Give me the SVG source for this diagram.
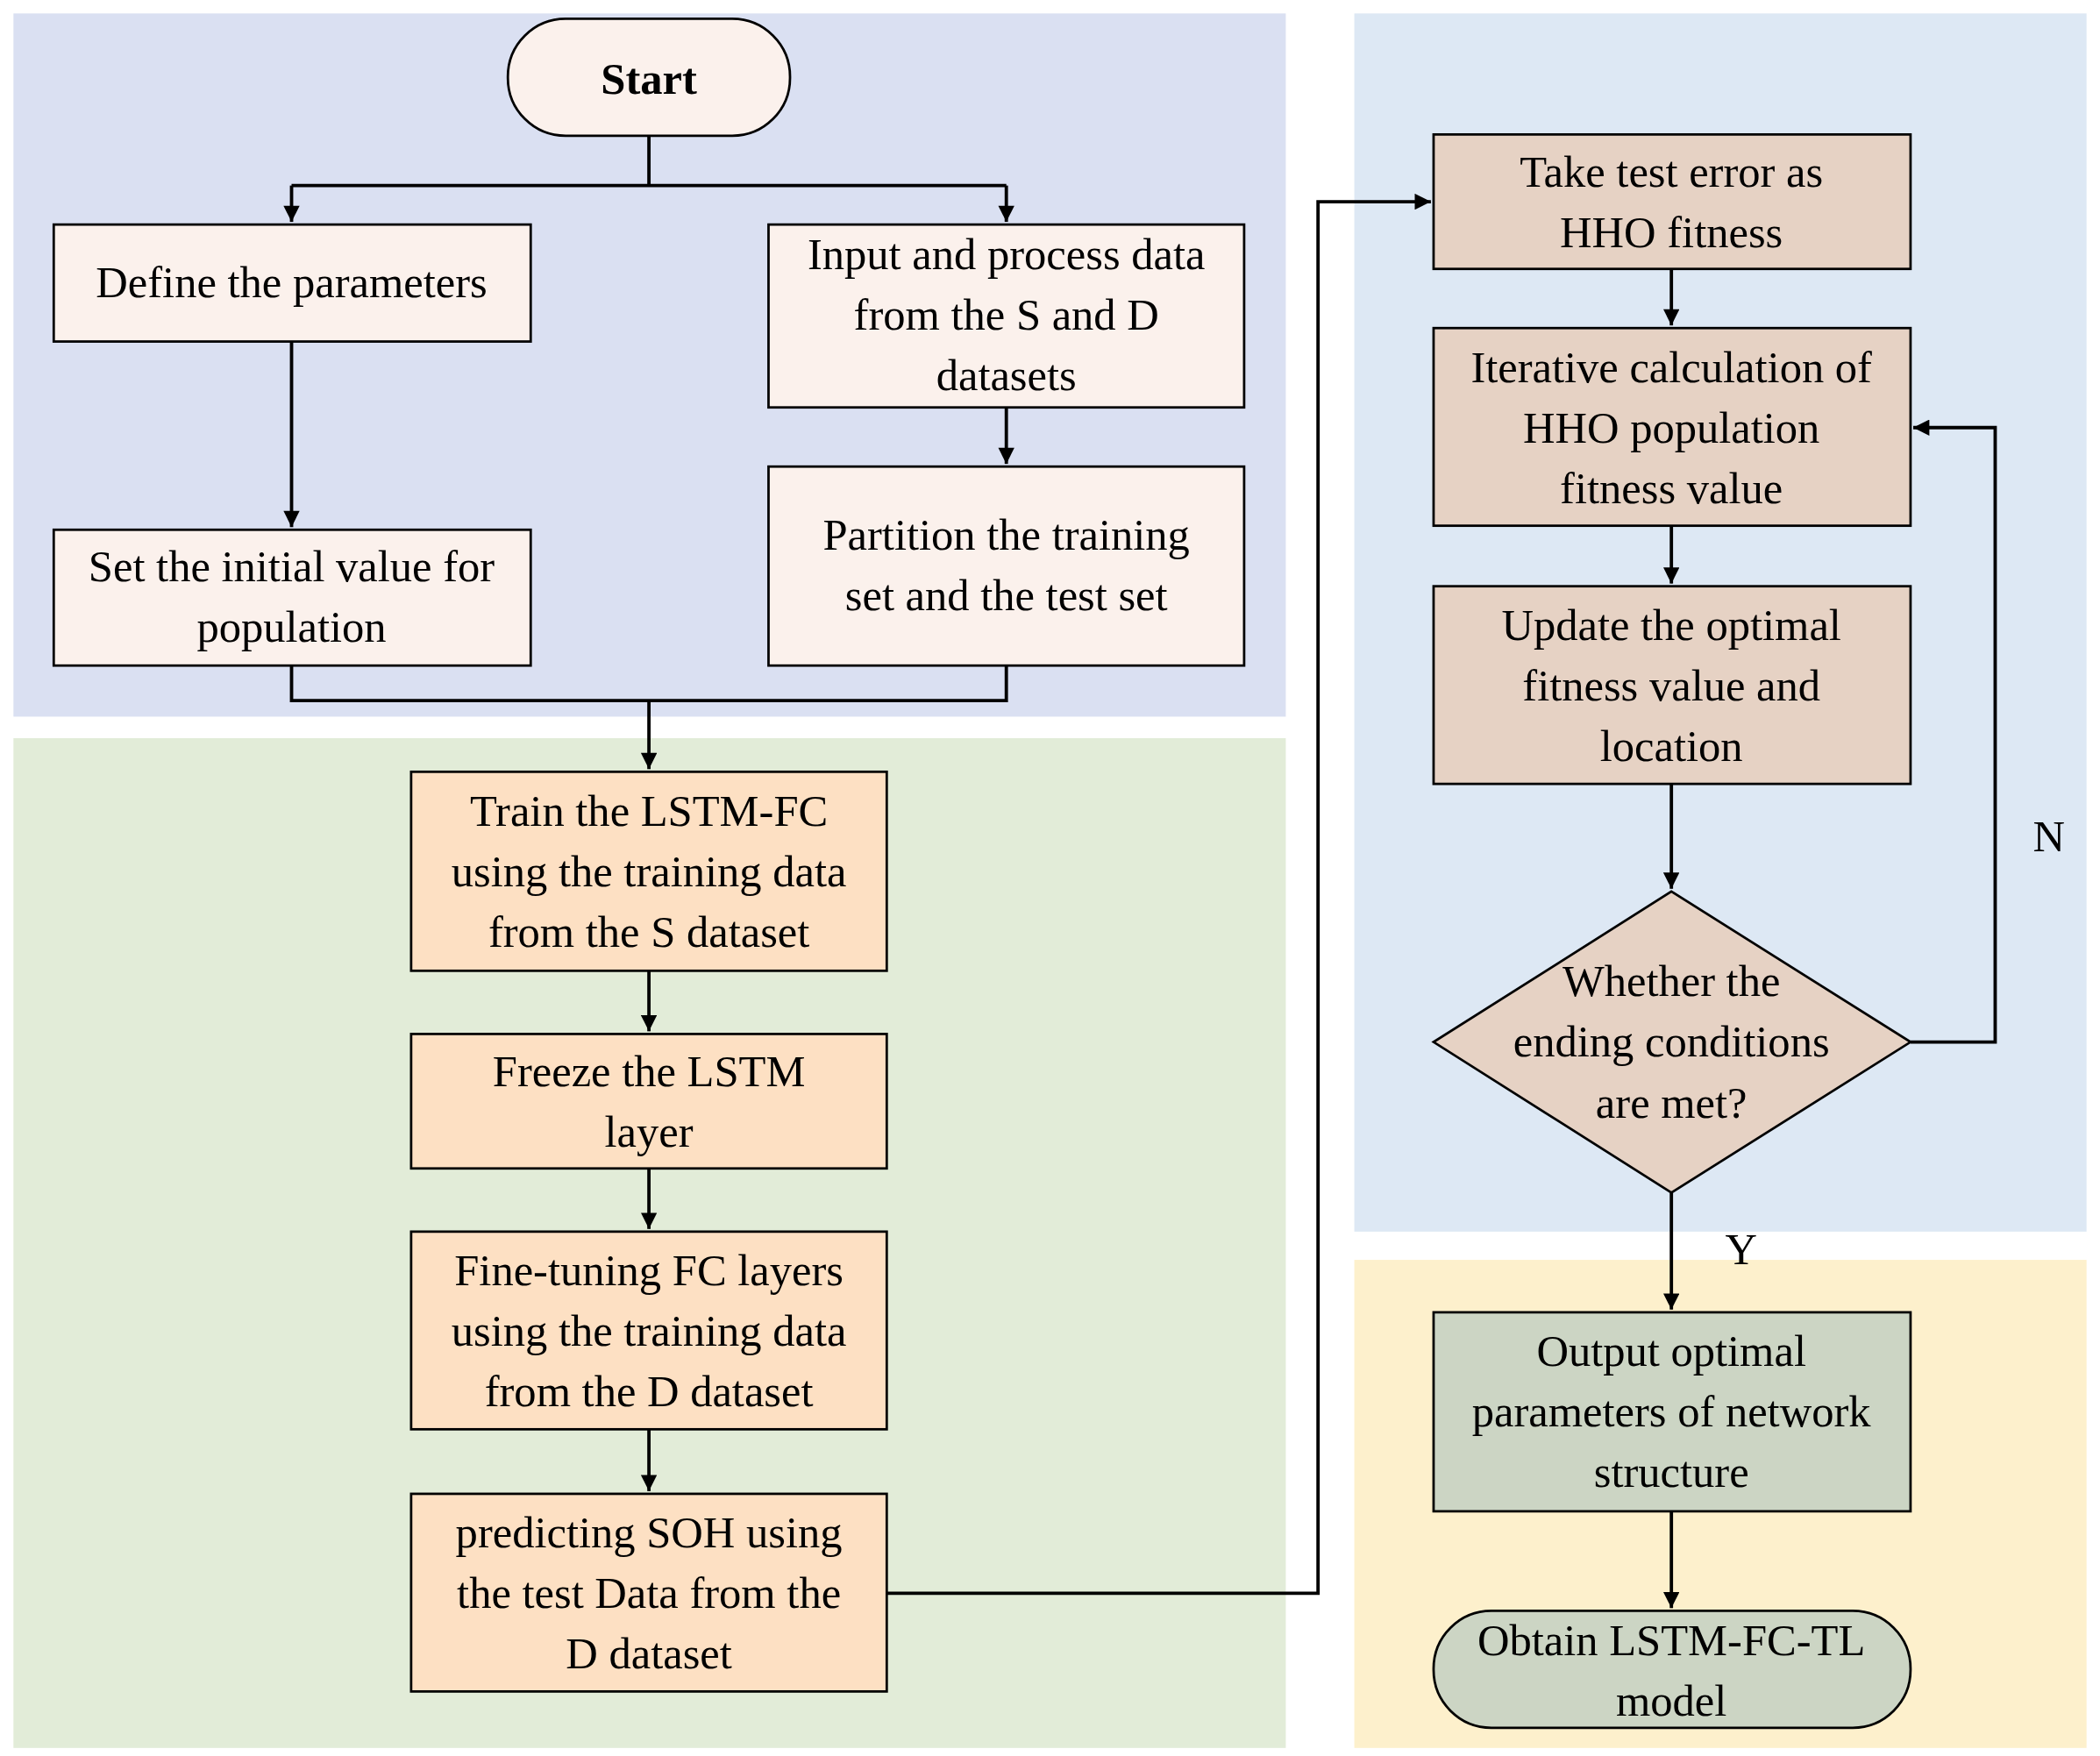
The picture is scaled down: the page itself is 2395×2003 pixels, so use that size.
<svg xmlns="http://www.w3.org/2000/svg" width="2395" height="2003" viewBox="0 0 2395 2003">
<defs>
<marker id="ah" viewBox="0 0 10 10" refX="10" refY="5" markerWidth="5" markerHeight="5" orient="auto" markerUnits="userSpaceOnUse"><path d="M0,0 L10,5 L0,10 z" fill="#000"/></marker>
<style>
.n{stroke:#000;stroke-width:1.8}
.a{fill:#fbf1ec}.b{fill:#fde0c3}.c{fill:#e6d2c4}.d{fill:#ccd5c4}
text{font-family:"Liberation Serif","Times New Roman",serif;font-size:33px;fill:#000;text-anchor:middle}
.e{fill:none;stroke:#000;stroke-width:2.5}
.m{marker-end:url(#ah)}
</style>
<marker id="ah2" viewBox="0 0 10 10" refX="10" refY="5" markerWidth="14" markerHeight="12" orient="auto" markerUnits="userSpaceOnUse"><path d="M0,0 L10,5 L0,10 z" fill="#000"/></marker>
</defs>
<rect width="2395" height="2003" fill="#fff"/>
<g transform="scale(1.5323,1.5337)">
<g id="panels">
<rect x="10" y="10" width="947" height="523" fill="#dae0f2"/>
<rect x="10" y="549" width="947" height="751" fill="#e2ecd8"/>
<rect x="1008" y="10" width="545" height="906" fill="#dde8f4"/>
<rect x="1008" y="937" width="545" height="363" fill="#fdf0cc"/>
</g>
<g id="connectors" class="e">
<path d="M483,101 V138 M217,138 H749"/>
<path d="M217,138 V165" marker-end="url(#ah2)"/>
<path d="M749,138 V165" marker-end="url(#ah2)"/>
<path d="M217,254 V392" marker-end="url(#ah2)"/>
<path d="M749,303 V345" marker-end="url(#ah2)"/>
<path d="M217,495 V521 H749 V495"/>
<path d="M483,521 V572" marker-end="url(#ah2)"/>
<path d="M483,722 V767" marker-end="url(#ah2)"/>
<path d="M483,869 V914" marker-end="url(#ah2)"/>
<path d="M483,1063 V1109" marker-end="url(#ah2)"/>
<path d="M660,1185 H981 V150 H1065" marker-end="url(#ah2)"/>
<path d="M1244,200 V242" marker-end="url(#ah2)"/>
<path d="M1244,391 V434" marker-end="url(#ah2)"/>
<path d="M1244,583 V661" marker-end="url(#ah2)"/>
<path d="M1422,775 H1485 V318 H1424" marker-end="url(#ah2)"/>
<path d="M1244,887 V974" marker-end="url(#ah2)"/>
<path d="M1244,1124 V1196" marker-end="url(#ah2)"/>
</g>
<g id="labels">
<text x="1525" y="633">N</text>
<text x="1296" y="940">Y</text>
</g>
<g id="start"><rect class="n a" x="378" y="14" width="210" height="87" rx="43"/><text x="483" y="70" font-weight="bold">Start</text></g>
<g id="define"><rect class="n a" x="40" y="167" width="355" height="87"/><text x="217" y="221">Define the parameters</text></g>
<g id="input"><rect class="n a" x="572" y="167" width="354" height="136"/><text x="749" y="200">Input and process data</text><text x="749" y="245">from the S and D</text><text x="749" y="290">datasets</text></g>
<g id="setinit"><rect class="n a" x="40" y="394" width="355" height="101"/><text x="217" y="432">Set the initial value for</text><text x="217" y="477">population</text></g>
<g id="partition"><rect class="n a" x="572" y="347" width="354" height="148"/><text x="749" y="409">Partition the training</text><text x="749" y="454">set and the test set</text></g>
<g id="train"><rect class="n b" x="306" y="574" width="354" height="148"/><text x="483" y="614">Train the LSTM-FC</text><text x="483" y="659">using the training data</text><text x="483" y="704">from the S dataset</text></g>
<g id="freeze"><rect class="n b" x="306" y="769" width="354" height="100"/><text x="483" y="808">Freeze the LSTM</text><text x="483" y="853">layer</text></g>
<g id="finetune"><rect class="n b" x="306" y="916" width="354" height="147"/><text x="483" y="956">Fine-tuning FC layers</text><text x="483" y="1001">using the training data</text><text x="483" y="1046">from the D dataset</text></g>
<g id="predict"><rect class="n b" x="306" y="1111" width="354" height="147"/><text x="483" y="1151">predicting SOH using</text><text x="483" y="1196">the test Data from the</text><text x="483" y="1241">D dataset</text></g>
<g id="testerr"><rect class="n c" x="1067" y="100" width="355" height="100"/><text x="1244" y="139">Take test error as</text><text x="1244" y="184">HHO fitness</text></g>
<g id="iter"><rect class="n c" x="1067" y="244" width="355" height="147"/><text x="1244" y="284">Iterative calculation of</text><text x="1244" y="329">HHO population</text><text x="1244" y="374">fitness value</text></g>
<g id="update"><rect class="n c" x="1067" y="436" width="355" height="147"/><text x="1244" y="476">Update the optimal</text><text x="1244" y="521">fitness value and</text><text x="1244" y="566">location</text></g>
<g id="decision"><polygon class="n c" points="1244,663 1422,775 1244,887 1067,775"/><text x="1244" y="741">Whether the</text><text x="1244" y="786">ending conditions</text><text x="1244" y="831">are met?</text></g>
<g id="output"><rect class="n d" x="1067" y="976" width="355" height="148"/><text x="1244" y="1016">Output optimal</text><text x="1244" y="1061">parameters of network</text><text x="1244" y="1106">structure</text></g>
<g id="obtain"><rect class="n d" x="1067" y="1198" width="355" height="87" rx="43"/><text x="1244" y="1231">Obtain LSTM-FC-TL</text><text x="1244" y="1276">model</text></g>
</g>
</svg>
